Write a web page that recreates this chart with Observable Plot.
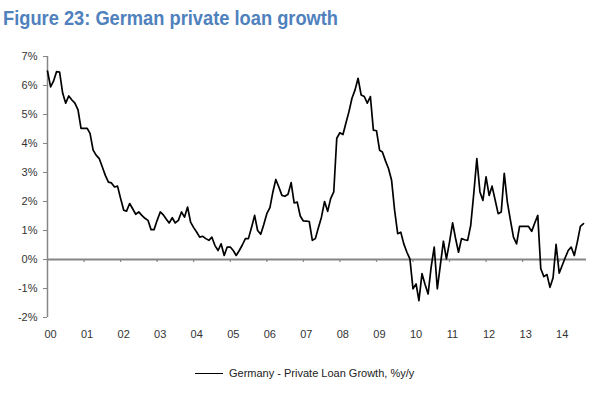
<!DOCTYPE html>
<html>
<head>
<meta charset="utf-8">
<script src="https://cdn.jsdelivr.net/npm/d3@7"></script>
<script src="https://cdn.jsdelivr.net/npm/@observablehq/plot@0.6"></script>
<style>
  html, body { margin: 0; padding: 0; background: #fff; }
  body { width: 600px; height: 394px; position: relative; overflow: hidden; font-family: "Liberation Sans", Arial, sans-serif; }
  #title { position: absolute; left: 3px; top: 7px; font-family: "Liberation Sans", Arial, sans-serif; font-weight: bold; font-size: 21px; line-height: 1; color: #4f81bd; white-space: nowrap; transform: scaleX(0.87); transform-origin: 0 0; }
  #chart { position: absolute; left: 0; top: 40px; }
  #legend { position: absolute; left: 195px; top: 367px; font-size: 11px; color: #222; display: flex; align-items: center; white-space: nowrap; }
  #legend .swatch { display: inline-block; width: 28px; height: 0; border-top: 1.5px solid #000; margin-right: 6px; }
</style>
</head>
<body>
<div id="title">Figure 23: German private loan growth</div>
<div id="chart"></div>
<div id="legend"><span class="swatch"></span><span id="legendLabel"></span></div>
<script>
// ---- data ----
const seriesName = "Germany - Private Loan Growth, %y/y";
const firstMonth = "2000-01-01";
// monthly % y/y, Jan 2000 .. Sep 2014
const growth = [
  6.50, 5.95, 6.15, 6.48, 6.46, 5.73, 5.39, 5.64, 5.50, 5.39, 5.16, 4.52,   // 2000
  4.52, 4.52, 4.35, 3.77, 3.60, 3.48, 3.20, 2.90, 2.67, 2.64, 2.50, 2.53,   // 2001
  2.10, 1.70, 1.67, 1.93, 1.75, 1.56, 1.64, 1.52, 1.42, 1.35, 1.03, 1.03,   // 2002
  1.35, 1.64, 1.55, 1.40, 1.26, 1.44, 1.26, 1.35, 1.64, 1.46, 1.81, 1.29,   // 2003
  1.10, 0.94, 0.77, 0.80, 0.72, 0.66, 0.77, 0.48, 0.31, 0.54, 0.14, 0.43,   // 2004
  0.43, 0.30, 0.14, 0.31, 0.50, 0.72, 0.72, 1.10, 1.52, 1.00, 0.87, 1.20,   // 2005
  1.58, 1.79, 2.30, 2.76, 2.50, 2.21, 2.18, 2.25, 2.65, 1.95, 1.98, 1.50,   // 2006
  1.33, 1.32, 1.31, 0.66, 0.72, 1.10, 1.46, 2.00, 1.66, 2.10, 2.33, 4.18,   // 2007
  4.37, 4.31, 4.70, 5.10, 5.56, 5.85, 6.25, 5.67, 5.62, 5.39, 5.62, 4.46,   // 2008
  4.44, 3.77, 3.71, 3.40, 3.14, 2.73, 1.70, 0.89, 0.94, 0.54, 0.25, 0.02,   // 2009
  -1.01, -0.84, -1.42, -0.49, -0.85, -1.19, -0.27, 0.43, -1.01, -0.20, 0.63, 0.02, // 2010
  0.60, 1.26, 0.75, 0.25, 0.72, 0.68, 0.66, 1.18, 2.30, 3.48, 2.33, 2.04,   // 2011
  2.85, 2.21, 2.53, 2.05, 1.58, 1.64, 2.97, 1.98, 1.35, 0.77, 0.54, 1.14,   // 2012
  1.14, 1.14, 1.14, 0.97, 1.25, 1.52, -0.32, -0.59, -0.52, -0.96, -0.63, 0.52, // 2013
  -0.47, -0.20, 0.05, 0.31, 0.43, 0.14, 0.60, 1.14, 1.24                     // 2014
];
const yTicks = [-2, -1, 0, 1, 2, 3, 4, 5, 6, 7];
const yearTicks = [2000, 2001, 2002, 2003, 2004, 2005, 2006, 2007, 2008, 2009, 2010, 2011, 2012, 2013, 2014];

// ---- build table ----
const start = new Date(firstMonth + "T00:00:00Z");
const rows = growth.map((v, i) => ({date: d3.utcMonth.offset(start, i), value: v}));
const yearDates = yearTicks.map(y => new Date(Date.UTC(y, 0, 1)));

document.getElementById("legendLabel").textContent = seriesName;

const axisGray = "#868686";
const chart = Plot.plot({
  width: 600,
  height: 320,
  marginTop: 16,
  marginBottom: 43,
  marginLeft: 47,
  marginRight: 14,
  style: {fontFamily: "'Liberation Sans', Arial, sans-serif", fontSize: "11px", color: "#333", background: "#fff"},
  x: {type: "utc", domain: [start, new Date(Date.UTC(2014, 9, 1))]},
  y: {domain: [-2, 7]},
  marks: [
    Plot.axisY({ticks: yTicks, tickFormat: d => d + "%", tickSize: 4, tickPadding: 6, stroke: axisGray, label: null, fill: "#333"}),
    Plot.axisX({ticks: yearDates, tickFormat: d3.utcFormat("%y"), tickSize: 0, tickPadding: 13, dx: 3, label: null, fill: "#333"}),
    Plot.ruleY([0], {stroke: axisGray, strokeWidth: 2}),
    Plot.ruleX(yearDates.slice(1), {y1: 0, y2: -0.1, stroke: axisGray, strokeWidth: 1.2}),
    Plot.ruleX([start], {y1: -2, y2: 7, stroke: axisGray, strokeWidth: 1.5}),
    Plot.line(rows, {x: "date", y: "value", stroke: "#000", strokeWidth: 1.7, strokeLinejoin: "round"})
  ]
});
document.getElementById("chart").appendChild(chart);
</script>
</body>
</html>
